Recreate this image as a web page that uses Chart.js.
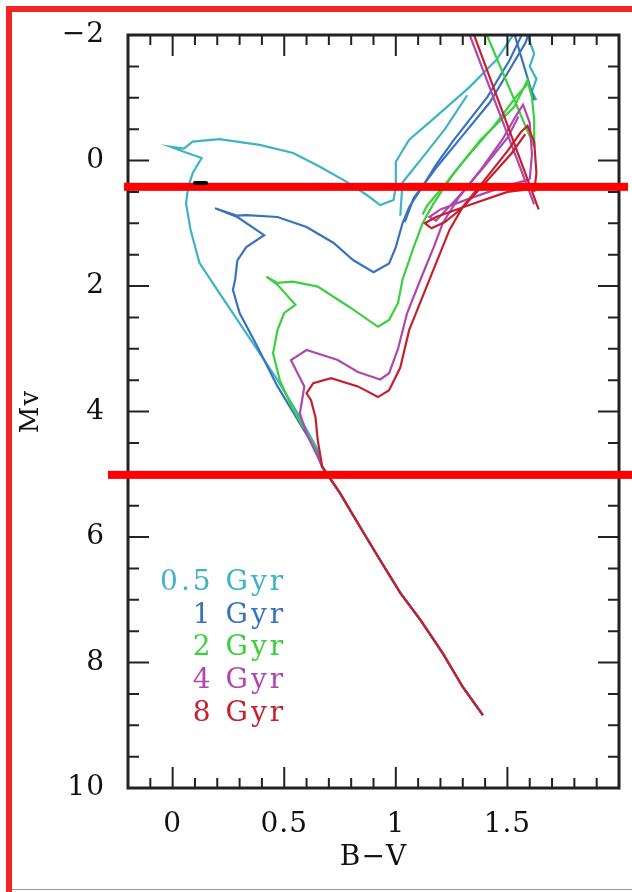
<!DOCTYPE html>
<html>
<head>
<meta charset="utf-8">
<script src="https://cdn.jsdelivr.net/npm/chart.js@4.4.0/dist/chart.umd.min.js"></script>
<style>
  html, body { margin: 0; padding: 0; background: #fff; }
  canvas { display: block; }
</style>
</head>
<body>
<canvas id="cmd" width="632" height="892"></canvas>
<script>
// ages, colours and where the age key sits (B-V of right edge, Mv of each row)
const ages = ['0.5 Gyr', '1 Gyr', '2 Gyr', '4 Gyr', '8 Gyr'];
const ageColors = ['#3eb2c6', '#3a72bd', '#3ccf3e', '#ae48b0', '#c61f2d'];
const keyBV = 0.495;
const keyMV = [6.73, 7.25, 7.77, 8.29, 8.81];

const xTicks = [0, 0.5, 1, 1.5];
const yTicks = [-2, 0, 2, 4, 6, 8, 10];

// lower main sequence, common to every isochrone  [B-V, Mv]
const mainSeq = [[1.39, 8.84], [1.30, 8.39], [1.21, 7.85], [1.11, 7.32], [1.02, 6.89],
  [0.93, 6.37], [0.84, 5.84], [0.75, 5.30], [0.67, 4.88]];

// 0.5 Gyr
const track05 = [[0.65, 4.61], [0.56, 4.03], [0.47, 3.50], [0.38, 3.02], [0.29, 2.54], [0.20, 2.06],
  [0.12, 1.63], [0.08, 1.10], [0.06, 0.68], [0.07, 0.42], [0.09, 0.20], [0.13, -0.04], [0.05, -0.14],
  [-0.01, -0.22], [0.05, -0.19], [0.09, -0.30], [0.21, -0.34], [0.39, -0.25], [0.54, -0.12],
  [0.66, 0.10], [0.78, 0.34], [0.87, 0.55], [0.93, 0.71], [0.99, 0.63], [1.00, 0.40], [1.00, 0.02],
  [1.06, -0.33], [1.18, -0.70], [1.33, -1.17], [1.45, -1.60], [1.52, -1.97], [1.54, -2.15]];
const agb05 = [[1.02, 0.88], [1.03, 0.35], [1.12, -0.05], [1.22, -0.50], [1.32, -1.04]];
const top05 = [[1.57, -2.15], [1.60, -1.90], [1.62, -1.70], [1.60, -1.50], [1.63, -1.30],
  [1.61, -1.10], [1.63, -0.96]];

// 1 Gyr
const track1 = [[0.65, 4.66], [0.56, 4.13], [0.47, 3.60], [0.38, 2.97], [0.30, 2.43], [0.27, 2.06],
  [0.28, 1.90], [0.29, 1.59], [0.33, 1.38], [0.41, 1.19], [0.29, 0.90], [0.19, 0.76], [0.29, 0.88],
  [0.33, 0.87], [0.47, 0.90], [0.60, 1.06], [0.72, 1.31], [0.81, 1.59], [0.90, 1.78], [0.97, 1.64],
  [1.00, 1.38], [1.03, 1.00], [1.06, 0.74], [1.11, 0.47], [1.18, 0.07], [1.26, -0.33], [1.41, -1.01],
  [1.51, -1.60], [1.56, -1.97], [1.58, -2.15]];
const agb1 = [[1.04, 0.98], [1.08, 0.60], [1.18, 0.12], [1.30, -0.40], [1.42, -0.92], [1.51, -1.45],
  [1.58, -1.87], [1.61, -2.15]];
const top1 = [[1.52, -2.15], [1.62, -0.96]];

// 2 Gyr
const track2 = [[0.62, 4.45], [0.54, 3.97], [0.48, 3.50], [0.45, 3.07], [0.47, 2.70], [0.50, 2.43],
  [0.55, 2.30], [0.47, 1.98], [0.42, 1.85], [0.47, 1.95], [0.54, 1.93], [0.65, 2.01], [0.79, 2.33],
  [0.92, 2.65], [0.97, 2.54], [1.01, 2.27], [1.03, 1.90], [1.08, 1.38], [1.12, 1.00], [1.17, 0.68],
  [1.26, 0.20], [1.38, -0.33], [1.53, -0.85], [1.59, -1.28], [1.61, -1.00], [1.62, -0.65], [1.62, -0.22]];
const agb2 = [[1.12, 0.86], [1.14, 0.72], [1.22, 0.38], [1.32, -0.06], [1.44, -0.55], [1.54, -1.02],
  [1.59, -1.22]];
const top2 = [[1.39, -2.15], [1.62, -0.22]];

// 4 Gyr
const track4 = [[0.65, 4.72], [0.60, 4.35], [0.57, 4.03], [0.58, 3.82], [0.59, 3.60], [0.56, 3.39],
  [0.53, 3.18], [0.60, 3.02], [0.74, 3.18], [0.83, 3.37], [0.93, 3.49], [0.97, 3.39], [1.01, 3.00],
  [1.05, 2.44], [1.11, 1.90], [1.17, 1.38], [1.21, 1.00], [1.28, 0.60], [1.38, 0.15], [1.48, -0.35],
  [1.54, -0.72], [1.57, -0.89], [1.60, -0.60], [1.61, -0.10], [1.60, 0.30]];
const agb4 = [[1.60, 0.30], [1.48, 0.42], [1.32, 0.62], [1.20, 0.78], [1.15, 0.90], [1.18, 0.96],
  [1.28, 0.58], [1.40, 0.08], [1.50, -0.36], [1.55, -0.70]];
const top4 = [[1.315, -2.15], [1.62, 0.70]];

// 8 Gyr
const track8 = [[0.65, 4.45], [0.64, 4.09], [0.62, 3.82], [0.60, 3.71], [0.63, 3.55], [0.71, 3.47],
  [0.83, 3.60], [0.92, 3.77], [0.97, 3.66], [1.02, 3.30], [1.06, 2.70], [1.12, 2.17], [1.18, 1.64],
  [1.24, 1.11], [1.30, 0.74], [1.40, 0.30], [1.50, -0.15], [1.56, -0.45], [1.59, -0.55], [1.62, -0.30],
  [1.63, 0.20], [1.62, 0.50]];
const agb8 = [[1.62, 0.45], [1.50, 0.50], [1.32, 0.72], [1.18, 0.90], [1.13, 1.00], [1.16, 1.08],
  [1.22, 0.98], [1.30, 0.75], [1.42, 0.28], [1.52, -0.12], [1.58, -0.42]];
const top8 = [[1.335, -2.15], [1.64, 0.78]];

// short black mark near the turn-off of the youngest track
const blackMark = [[0.10, 0.36], [0.15, 0.36]];

const FONT = 'DejaVu Serif';

function seg(points, color, width) {
  return {
    data: points.map(([x, y]) => ({ x, y })),
    showLine: true,
    borderColor: color,
    borderWidth: width || 2.2,
    pointRadius: 0,
    tension: 0,
    fill: false,
    clip: 0
  };
}

// listed youngest last so the oldest (red) ends up drawn on top
const tracks = [
  [track8, agb8, top8],
  [track4, agb4, top4],
  [track2, agb2, top2],
  [track1, agb1, top1],
  [track05, agb05, top05]
];
const datasets = [];
tracks.forEach((parts, k) => {
  const color = ageColors[4 - k];
  datasets.push(seg(mainSeq.concat(parts[0]), color));
  datasets.push(seg(parts[1], color));
  datasets.push(seg(parts[2], color));
});

// boxed axes with inward ticks, key, and red marker lines
const decorations = {
  id: 'decorations',
  beforeDraw(chart) {
    chart.ctx.letterSpacing = '1px';
  },
  afterDatasetsDraw(chart) {
    const { ctx, chartArea: a, scales: { x, y } } = chart;
    ctx.save();
    ctx.letterSpacing = '0px';
    ctx.strokeStyle = '#222';
    ctx.lineWidth = 2;
    ctx.beginPath();
    for (let i = -1; i <= 19; i++) {
      const px = x.getPixelForValue(i / 10);
      const len = i % 5 === 0 ? 21 : 10;
      ctx.moveTo(px, a.bottom); ctx.lineTo(px, a.bottom - len);
      ctx.moveTo(px, a.top); ctx.lineTo(px, a.top + len);
    }
    for (let i = -3; i <= 19; i++) {
      const v = i / 2;
      const py = y.getPixelForValue(v);
      const len = v % 2 === 0 ? 21 : 11;
      ctx.moveTo(a.left, py); ctx.lineTo(a.left + len, py);
      ctx.moveTo(a.right, py); ctx.lineTo(a.right - len, py);
    }
    ctx.stroke();
    ctx.lineWidth = 3;
    ctx.strokeRect(a.left, a.top, a.right - a.left, a.bottom - a.top);

    ctx.font = '28px "' + FONT + '"';
    ctx.letterSpacing = '3px';
    ctx.textAlign = 'right';
    ctx.textBaseline = 'middle';
    ages.forEach((t, i) => {
      ctx.fillStyle = ageColors[i];
      ctx.fillText(t, x.getPixelForValue(keyBV) + 3, y.getPixelForValue(keyMV[i]));
    });
    ctx.restore();
  },
  afterDraw(chart) {
    const { ctx, width, height, scales: { x, y } } = chart;
    ctx.save();
    ctx.fillStyle = '#ff0000';
    const y1 = y.getPixelForValue(0.42);
    const y2 = y.getPixelForValue(5.01);
    ctx.fillRect(124, y1 - 4, 504, 8);
    ctx.fillRect(108, y2 - 4, width - 108, 8);
    // black tick mark sitting on the upper red line
    ctx.strokeStyle = '#000';
    ctx.lineWidth = 4;
    ctx.lineCap = 'round';
    ctx.beginPath();
    ctx.moveTo(x.getPixelForValue(blackMark[0][0]), y.getPixelForValue(blackMark[0][1]));
    ctx.lineTo(x.getPixelForValue(blackMark[1][0]), y.getPixelForValue(blackMark[1][1]));
    ctx.stroke();
    // outer frame
    ctx.fillStyle = '#f42424';
    ctx.fillRect(6, 6, width - 6, 6);
    ctx.fillRect(6, 6, 6, height - 6);
    ctx.fillStyle = '#999';
    ctx.fillRect(12, height - 3, width - 12, 1);
    ctx.restore();
  }
};

new Chart(document.getElementById('cmd'), {
  type: 'scatter',
  data: { datasets },
  options: {
    responsive: false,
    animation: false,
    events: [],
    layout: { autoPadding: false, padding: { top: 35, right: 13, left: 0, bottom: 0 } },
    plugins: { legend: { display: false }, tooltip: { enabled: false } },
    scales: {
      x: {
        type: 'linear',
        min: -0.2,
        max: 2.0,
        grid: { display: false, drawTicks: false },
        border: { display: false },
        afterBuildTicks: (s) => { s.ticks = xTicks.map(v => ({ value: v })); },
        afterFit: (s) => { s.height = 104; s.paddingLeft = 0; s.paddingRight = 0; },
        ticks: {
          color: '#111',
          padding: 20,
          font: { family: FONT, size: 28 },
          callback: (v) => String(v)
        },
        title: {
          display: true,
          text: 'B−V',
          color: '#111',
          font: { family: FONT, size: 28 },
          padding: { top: 0, bottom: 17 }
        }
      },
      y: {
        type: 'linear',
        reverse: true,
        min: -2,
        max: 10,
        grid: { display: false, drawTicks: false },
        border: { display: false },
        afterBuildTicks: (s) => { s.ticks = yTicks.map(v => ({ value: v })); },
        afterFit: (s) => { s.width = 128; s.paddingTop = 0; s.paddingBottom = 0; },
        ticks: {
          color: '#111',
          padding: 23,
          font: { family: FONT, size: 28 },
          callback: (v) => (v < 0 ? '−' + Math.abs(v) : String(v))
        },
        title: {
          display: true,
          text: 'Mv',
          color: '#111',
          font: { family: FONT, size: 26 },
          padding: { top: 16, bottom: 0 }
        }
      }
    }
  },
  plugins: [decorations]
});
</script>
</body>
</html>
